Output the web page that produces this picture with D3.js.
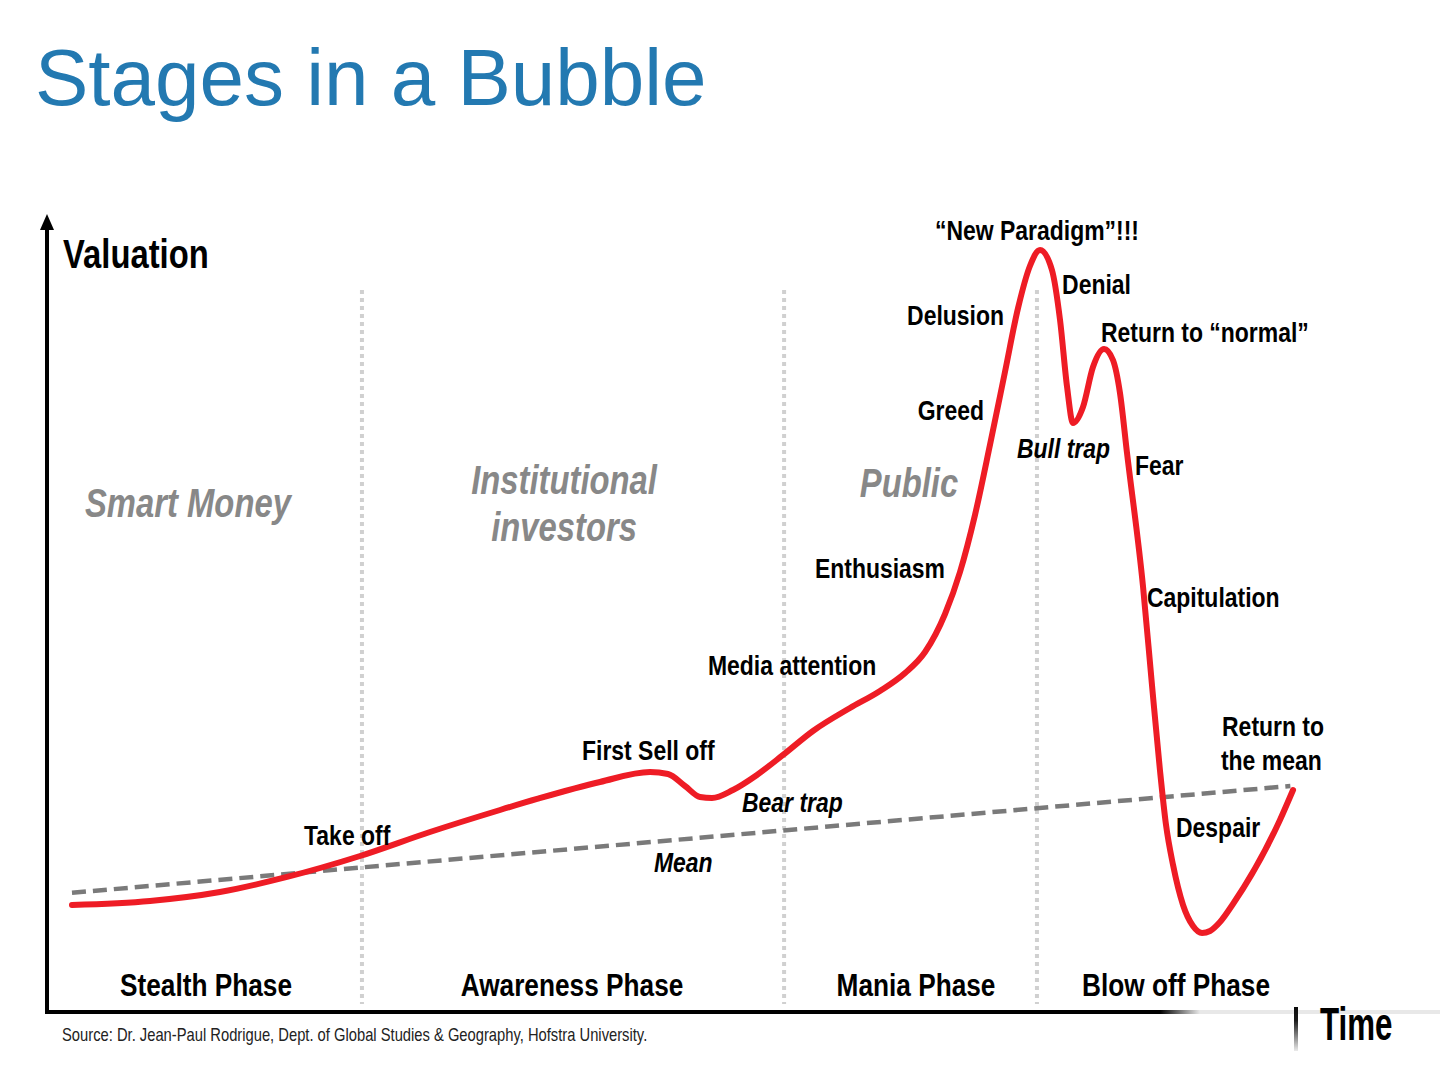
<!DOCTYPE html>
<html>
<head>
<meta charset="utf-8">
<script src="https://cdn.jsdelivr.net/npm/d3@7"></script>
<style>
  body { margin: 0; background: #fff; }
  text { font-family: "Liberation Sans", Arial, sans-serif; }
</style>
</head>
<body>
<svg id="chart" width="1444" height="1066"></svg>
<script>
// valuation curve (time 0-100, valuation 0-100)
var curveTime = [1.85, 7.63, 12.81, 17.78, 23.19, 28.37, 33.56, 36.30, 40.96, 44.67, 46.0, 47.26, 48.37, 49.26,
  50.81, 52.59, 54.52, 56.74, 59.48, 61.70, 63.56, 65.04, 66.52, 67.63, 68.74, 69.85, 70.96, 71.93, 72.81, 73.56,
  74.44, 75.04, 75.56, 76.0, 76.74, 77.48, 78.30, 78.96, 79.48, 80.0, 81.19, 81.85, 82.44, 82.89, 83.41, 84.15,
  84.89, 85.56, 86.15, 86.89, 87.85, 91.33, 92.30];
var curveValue = [13.38, 13.88, 15.0, 16.88, 19.5, 22.5, 25.25, 26.63, 28.75, 30.0, 29.75, 28.25, 26.88, 26.75,
  27.75, 29.63, 32.13, 35.13, 38.0, 40.13, 42.38, 45.0, 49.75, 55.0, 62.13, 70.88, 80.0, 88.0, 93.25, 95.25,
  92.75, 86.5, 78.13, 73.63, 75.63, 80.63, 82.88, 81.5, 77.38, 69.88, 53.13, 40.88, 30.25, 23.38, 18.38, 13.38,
  10.75, 9.88, 10.13, 11.25, 13.5, 24.0, 27.75];

// mean trend
var meanTime = [1.85, 92.1];
var meanValue = [14.9, 28.25];

// phases
var phaseBounds = [23.33, 54.6, 73.33];
var phaseNames = ["Stealth Phase", "Awareness Phase", "Mania Phase", "Blow off Phase"];
var phaseCenters = [11.78, 38.89, 64.37, 83.63];

// who is buying
var groupLines = [["Smart Money"], ["Institutional", "investors"], ["Public"]];
var groupTime = [10.44, 38.3, 63.85];
var groupValue = [61.9, 64.7, 64.4];

// stage annotations: text, time, valuation, anchor, italic
var stageLabels = [
  ["\u201cNew Paradigm\u201d!!!", 73.33, 96.5, "middle", false],
  ["Denial", 75.19, 89.75, "start", false],
  ["Delusion", 70.89, 85.9, "end", false],
  ["Return to \u201cnormal\u201d", 78.07, 83.75, "start", false],
  ["Greed", 69.41, 74.0, "end", false],
  ["Bull trap", 71.85, 69.25, "start", true],
  ["Fear", 80.59, 67.1, "start", false],
  ["Enthusiasm", 66.52, 54.25, "end", false],
  ["Capitulation", 81.48, 50.6, "start", false],
  ["Media attention", 48.96, 42.1, "start", false],
  ["Return to", 87.04, 34.5, "start", false],
  ["the mean", 86.96, 30.25, "start", false],
  ["First Sell off", 39.63, 31.5, "start", false],
  ["Bear trap", 51.48, 25.0, "start", true],
  ["Take off", 19.04, 20.9, "start", false],
  ["Despair", 83.63, 21.9, "start", false],
  ["Mean", 44.96, 17.5, "start", true]
];

var NARROW = 0.82;   // fake Arial Narrow with a horizontal squeeze

var svg = d3.select("#chart");

var x = d3.scaleLinear().domain([0, 100]).range([47, 1397]);
var y = d3.scaleLinear().domain([0, 100]).range([1012, 212]);

function narrowAt(px, py, k) {
  return "translate(" + px + "," + py + ") scale(" + (k || NARROW) + ",1)";
}

var defs = svg.append("defs");
var axisFade = defs.append("linearGradient")
    .attr("id", "axisFade")
    .attr("gradientUnits", "userSpaceOnUse")
    .attr("x1", 1160).attr("x2", 1200).attr("y1", 0).attr("y2", 0);
axisFade.append("stop").attr("offset", 0).attr("stop-color", "#000");
axisFade.append("stop").attr("offset", 1).attr("stop-color", "#e8e8e8");

var timeFade = defs.append("linearGradient")
    .attr("id", "timeFade")
    .attr("gradientUnits", "userSpaceOnUse")
    .attr("x1", 0).attr("x2", 0).attr("y1", 998).attr("y2", 1054);
timeFade.append("stop").attr("offset", 0).attr("stop-color", "#000");
timeFade.append("stop").attr("offset", 0.4).attr("stop-color", "#1a1a1a");
timeFade.append("stop").attr("offset", 1).attr("stop-color", "#fff");

// title
svg.append("text")
    .attr("x", 35).attr("y", 105)
    .style("font-size", "80px")
    .attr("fill", "#2379b1")
    .text("Stages in a Bubble");

// phase separators
svg.selectAll(".sep")
    .data(phaseBounds)
    .enter()
    .append("line")
    .attr("class", "sep")
    .attr("x1", function(d) { return x(d); })
    .attr("x2", function(d) { return x(d); })
    .attr("y1", 290).attr("y2", 1004)
    .attr("stroke", "#d0d0d0")
    .attr("stroke-width", 4)
    .attr("stroke-dasharray", "4 4");

// axes
svg.append("line")
    .attr("x1", x(0)).attr("x2", x(0))
    .attr("y1", y(0) + 2).attr("y2", 228)
    .attr("stroke", "#000").attr("stroke-width", 4);
svg.append("path")
    .attr("d", "M" + x(0) + ",214 l-7,16 l14,0 z")
    .attr("fill", "#000");
svg.append("line")
    .attr("x1", x(0) - 2).attr("x2", 1440)
    .attr("y1", y(0)).attr("y2", y(0))
    .attr("stroke", "url(#axisFade)").attr("stroke-width", 4);

svg.append("text")
    .attr("transform", narrowAt(63, 268))
    .style("font-size", "40px").style("font-weight", "bold")
    .text("Valuation");

// faded "Time" label
svg.append("rect")
    .attr("x", 1294).attr("y", 1007).attr("width", 4).attr("height", 44)
    .attr("fill", "url(#timeFade)");
svg.append("text")
    .attr("transform", narrowAt(1320, 1040, 0.68))
    .style("font-size", "46px").style("font-weight", "bold")
    .attr("fill", "url(#timeFade)")
    .text("Time");

// mean line
var meanLine = d3.line()
    .x(function(d, i) { return x(meanTime[i]); })
    .y(function(d, i) { return y(meanValue[i]); });
svg.append("path")
    .attr("d", meanLine(meanTime))
    .attr("fill", "none")
    .attr("stroke", "#7a7a7a")
    .attr("stroke-width", 4.5)
    .attr("stroke-dasharray", "14 7");

// bubble curve
var bubbleLine = d3.line()
    .x(function(d, i) { return x(curveTime[i]); })
    .y(function(d, i) { return y(curveValue[i]); })
    .curve(d3.curveMonotoneX);
svg.append("path")
    .attr("d", bubbleLine(curveTime))
    .attr("fill", "none")
    .attr("stroke", "#ee1c25")
    .attr("stroke-width", 6)
    .attr("stroke-linecap", "round")
    .attr("stroke-linejoin", "round");

// phase names
svg.selectAll(".phase")
    .data(phaseNames)
    .enter()
    .append("text")
    .attr("class", "phase")
    .attr("transform", function(d, i) { return narrowAt(x(phaseCenters[i]), 996); })
    .attr("text-anchor", "middle")
    .style("font-size", "32px").style("font-weight", "bold")
    .text(function(d) { return d; });

// buyer groups
groupLines.forEach(function(lines, i) {
  var t = svg.append("text")
      .attr("transform", narrowAt(x(groupTime[i]), y(groupValue[i])))
      .attr("text-anchor", "middle")
      .attr("fill", "#888")
      .style("font-size", "40px").style("font-weight", "bold").style("font-style", "italic");
  lines.forEach(function(line, j) {
    t.append("tspan")
        .attr("x", 0)
        .attr("y", j * 47)
        .text(line);
  });
});

// stage annotations
svg.selectAll(".stage")
    .data(stageLabels)
    .enter()
    .append("text")
    .attr("class", "stage")
    .attr("transform", function(d) { return narrowAt(x(d[1]), y(d[2])); })
    .attr("text-anchor", function(d) { return d[3]; })
    .style("font-size", "28px").style("font-weight", "bold")
    .style("font-style", function(d) { return d[4] ? "italic" : "normal"; })
    .text(function(d) { return d[0]; });

// source
svg.append("text")
    .attr("transform", narrowAt(62, 1041))
    .style("font-size", "18px")
    .attr("fill", "#222")
    .text("Source: Dr. Jean-Paul Rodrigue, Dept. of Global Studies & Geography, Hofstra University.");
</script>
</body>
</html>
